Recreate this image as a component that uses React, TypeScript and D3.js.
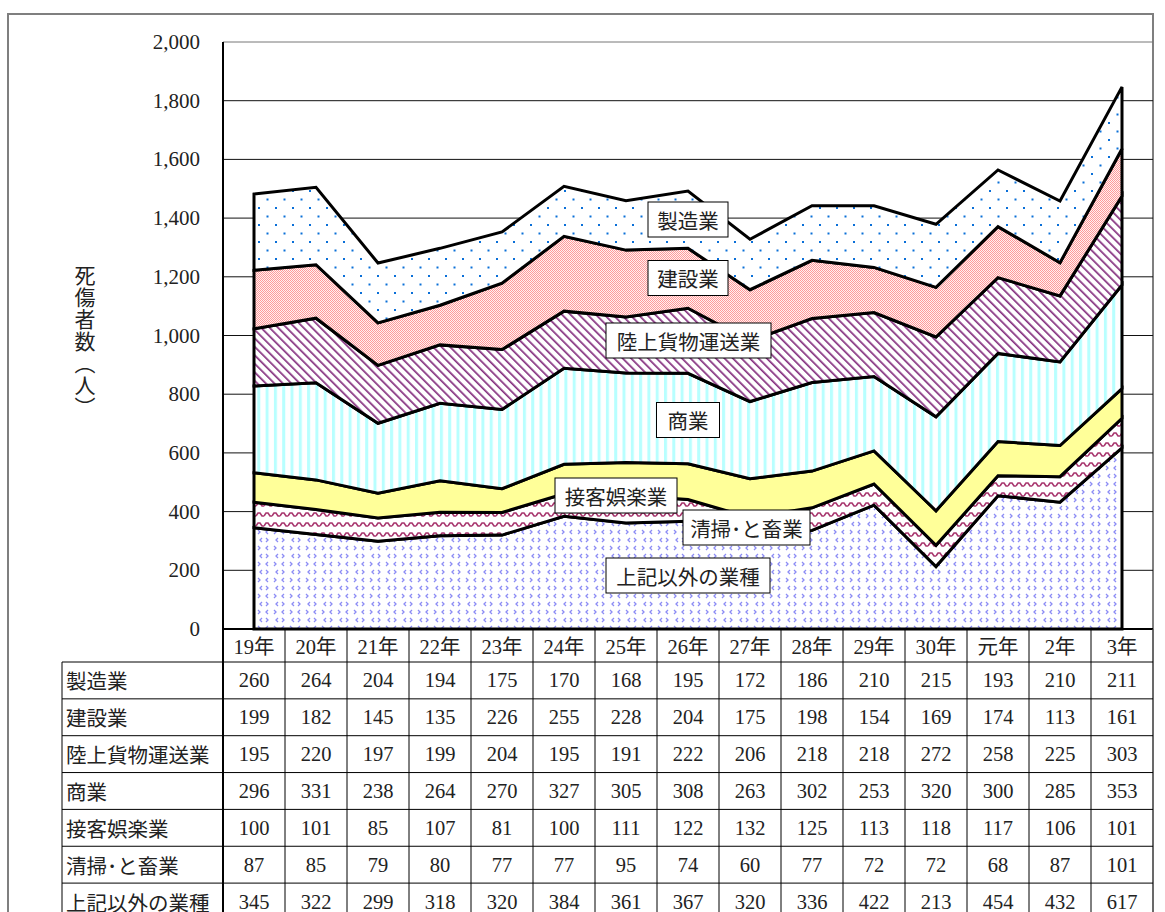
import React from "react";
import * as d3 from "d3";

const years = ["19年","20年","21年","22年","23年","24年","25年","26年","27年","28年","29年","30年","元年","2年","3年"];
const seriesNames = ["上記以外の業種","清掃･と畜業","接客娯楽業","商業","陸上貨物運送業","建設業","製造業"];
const tableOrder = ["製造業","建設業","陸上貨物運送業","商業","接客娯楽業","清掃･と畜業","上記以外の業種"];
const seizo = [260,264,204,194,175,170,168,195,172,186,210,215,193,210,211];
const kensetsu = [199,182,145,135,226,255,228,204,175,198,154,169,174,113,161];
const rikujo = [195,220,197,199,204,195,191,222,206,218,218,272,258,225,303];
const shogyo = [296,331,238,264,270,327,305,308,263,302,253,320,300,285,353];
const sekkyaku = [100,101,85,107,81,100,111,122,132,125,113,118,117,106,101];
const seiso = [87,85,79,80,77,77,95,74,60,77,72,72,68,87,101];
const other = [345,322,299,318,320,384,361,367,320,336,422,213,454,432,617];
const yTicks = [0,200,400,600,800,1000,1200,1400,1600,1800,2000];

const valuesByName: Record<string, number[]> = {
  "製造業": seizo, "建設業": kensetsu, "陸上貨物運送業": rikujo, "商業": shogyo,
  "接客娯楽業": sekkyaku, "清掃･と畜業": seiso, "上記以外の業種": other,
};
const fills: Record<string, string> = {
  "上記以外の業種": "url(#pOther)", "清掃･と畜業": "url(#pWave)", "接客娯楽業": "#FFFF99",
  "商業": "url(#pCyan)", "陸上貨物運送業": "url(#pDiag)", "建設業": "url(#pCheck)", "製造業": "url(#pDots)",
};
// label box layout (pixel centres & widths)
const labelLayout = [
  { name: "製造業", cx: 688, cy: 219.5, w: 80 },
  { name: "建設業", cx: 688, cy: 278, w: 80 },
  { name: "陸上貨物運送業", cx: 688.5, cy: 340.5, w: 165 },
  { name: "商業", cx: 688, cy: 420, w: 63 },
  { name: "接客娯楽業", cx: 616, cy: 495.5, w: 122 },
  { name: "清掃･と畜業", cx: 746.5, cy: 527.5, w: 127 },
  { name: "上記以外の業種", cx: 688, cy: 575.5, w: 164 },
];

const JP = "'Noto Sans CJK JP', 'Noto Sans', sans-serif";
const SERIF = "'Liberation Serif', 'Noto Sans CJK JP', serif";

export default function App() {
  const left = 223, right = 1153, top = 42, bottom = 629;
  const x = d3.scaleBand<string>().domain(years).range([left, right]).padding(0);
  const cx = (yr: string) => (x(yr) as number) + x.bandwidth() / 2;
  const y = d3.scaleLinear().domain([0, 2000]).range([bottom, top]);

  const rows = years.map((yr, i) => {
    const o: any = { year: yr };
    seriesNames.forEach((n) => (o[n] = valuesByName[n][i]));
    return o;
  });
  const stacked = d3.stack<any>().keys(seriesNames)(rows);
  const area = d3.area<any>()
    .x((d) => cx(d.data.year))
    .y0((d) => y(d[0]))
    .y1((d) => y(d[1]));

  const headerTop = bottom, headerBottom = 662;
  const rowH = 36.85;
  const tableLeft = 62;
  const rowY = d3.range(tableOrder.length + 1).map((i) => headerBottom + i * rowH);

  return (
    <div style={{ position: "fixed", left: 0, top: 0, width: 1165, height: 912, background: "#fff" }}>
      <svg width={1165} height={912} style={{ display: "block" }}>
        <defs>
          <pattern id="pDots" width={17} height={17} patternUnits="userSpaceOnUse">
            <rect width={17} height={17} fill="#fff" />
            <rect x={3} y={3} width={2} height={2} fill="#0A6FD8" />
            <rect x={11.5} y={11.5} width={2} height={2} fill="#0A6FD8" />
          </pattern>
          <pattern id="pCheck" width={2} height={2} patternUnits="userSpaceOnUse">
            <rect width={2} height={2} fill="#FFF0F0" />
            <rect x={0} y={0} width={1} height={1} fill="#FF9A9A" />
            <rect x={1} y={1} width={1} height={1} fill="#FF9A9A" />
          </pattern>
          <pattern id="pDiag" width={6} height={6} patternUnits="userSpaceOnUse" patternTransform="rotate(-45)">
            <rect width={6} height={6} fill="#fff" />
            <rect x={0} y={0} width={1.7} height={6} fill="#85307F" />
          </pattern>
          <pattern id="pCyan" width={8.3} height={8} patternUnits="userSpaceOnUse">
            <rect width={8.3} height={8} fill="#fff" />
            <rect x={0} y={0} width={3} height={8} fill="#B8FFFF" />
          </pattern>
          <pattern id="pWave" width={8} height={10} patternUnits="userSpaceOnUse">
            <rect width={8} height={10} fill="#fff" />
            <path d="M0,6 L2,3 L4,3 L6,6 L8,6" fill="none" stroke="#A8366E" strokeWidth={1.6} />
          </pattern>
          <pattern id="pOther" width={16} height={16} patternUnits="userSpaceOnUse">
            <rect width={16} height={16} fill="#fff" />
            <path d="M2,2 L4,4 L2,6" fill="none" stroke="#8C8CF5" strokeWidth={1.3} />
            <path d="M12,2 L10,4 L12,6" fill="none" stroke="#8C8CF5" strokeWidth={1.3} />
            <path d="M6,10 L4,12 L6,14" fill="none" stroke="#8C8CF5" strokeWidth={1.3} />
            <path d="M10,10 L12,12 L10,14" fill="none" stroke="#8C8CF5" strokeWidth={1.3} />
          </pattern>
        </defs>

        {/* outer frame */}
        <rect x={8} y={14} width={1145} height={930} fill="none" stroke="#7f7f7f" strokeWidth={2} />

        {/* gridlines */}
        {yTicks.filter((t) => t > 0).map((t) => (
          <line key={t} x1={left} x2={right} y1={y(t)} y2={y(t)} stroke={t === 2000 ? "#777" : "#111"} strokeWidth={1} />
        ))}
        {/* y tick labels */}
        {yTicks.map((t) => (
          <text key={t} x={200} y={y(t)} textAnchor="end" dominantBaseline="central"
            fontFamily={SERIF} fontSize={21} fill="#222">{d3.format(",")(t)}</text>
        ))}

        {/* y axis title */}
        <text x={85} y={265} fontFamily={JP} fontSize={21} fill="#222"
          style={{ writingMode: "vertical-rl", letterSpacing: 1 } as any}>死傷者数（人）</text>

        {/* areas */}
        {stacked.map((s) => (
          <path key={s.key} d={area(s) as string} fill={fills[s.key]} stroke="#000" strokeWidth={3} strokeLinejoin="miter" />
        ))}

        {/* axes */}
        <line x1={left} x2={left} y1={top} y2={912} stroke="#000" strokeWidth={2} />
        <line x1={left} x2={right} y1={bottom} y2={bottom} stroke="#000" strokeWidth={2} />

        {/* labels */}
        {labelLayout.map((l) => (
          <g key={l.name}>
            <rect x={l.cx - l.w / 2} y={l.cy - 17.5} width={l.w} height={35} fill="#fff" stroke="#000" strokeWidth={1} />
            <text x={l.cx} y={l.cy} textAnchor="middle" dominantBaseline="central" fontFamily={JP} fontSize={20.5} fill="#222">{l.name}</text>
          </g>
        ))}

        {/* table */}
        {years.map((yr, i) => (
          <line key={"v" + i} x1={x(yr) as number} x2={x(yr) as number} y1={headerTop} y2={912} stroke="#000" strokeWidth={1} />
        ))}
        <line x1={right} x2={right} y1={headerTop} y2={912} stroke="#555" strokeWidth={1} />
        <line x1={tableLeft} x2={tableLeft} y1={headerBottom} y2={912} stroke="#000" strokeWidth={1} />
        {rowY.map((ry, i) => (
          <line key={"h" + i} x1={tableLeft} x2={right} y1={ry} y2={ry} stroke="#000" strokeWidth={1} />
        ))}
        {years.map((yr) => (
          <text key={"yl" + yr} x={cx(yr)} y={(headerTop + headerBottom) / 2 + 1} textAnchor="middle" dominantBaseline="central"
            fontFamily={SERIF} fontSize={20.5} fill="#222">{yr}</text>
        ))}
        {tableOrder.map((n, r) => (
          <g key={"row" + n}>
            <text x={66} y={rowY[r] + rowH / 2} dominantBaseline="central" fontFamily={JP} fontSize={20.5} fill="#222">{n}</text>
            {valuesByName[n].map((v, i) => (
              <text key={i} x={cx(years[i])} y={rowY[r] + rowH / 2} textAnchor="middle" dominantBaseline="central"
                fontFamily={SERIF} fontSize={20.5} fill="#222">{v}</text>
            ))}
          </g>
        ))}
      </svg>
    </div>
  );
}
